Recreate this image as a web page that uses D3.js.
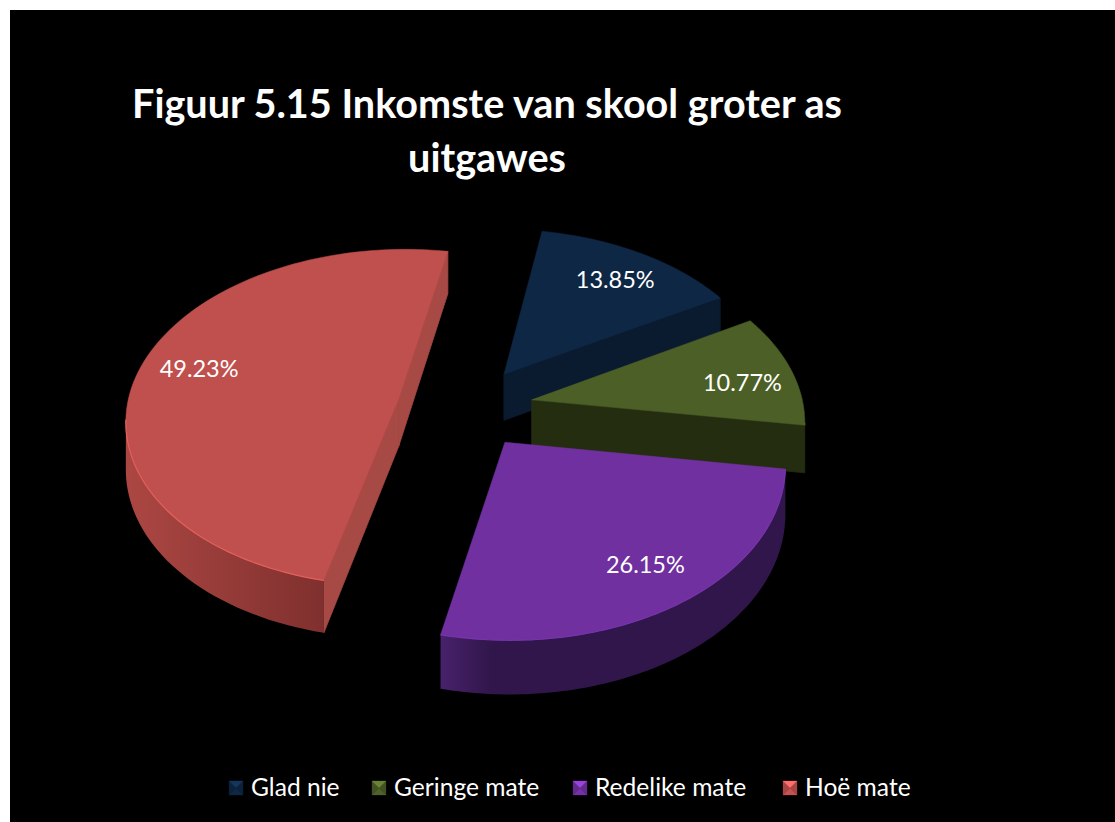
<!DOCTYPE html>
<html><head><meta charset="utf-8">
<script src="https://cdn.jsdelivr.net/npm/d3@7/dist/d3.min.js"></script>
<style>html,body{margin:0;padding:0;background:#fff}svg{display:block}</style>
</head><body><svg id="c" width="1115" height="822"></svg>
<script>
const categories = ["Glad nie","Geringe mate","Redelike mate","Hoë mate"];
const values = [13.85,10.77,26.15,49.23];
const titleLines = ["Figuur 5.15 Inkomste van skool groter as","uitgawes"];
const topColors = ["#0e2744","#4c5f27","#7030a0","#c0504d"];
const wallColors = ["#0a1a2f","#252d11","#30164a","#7f302e"];
const wallLight = ["#0c2038","#2b3415","#48216c","#ac4743"];
const cutColors = ["#0a1a2f","#252d11","#3c1b5c","#a74a45"];
const rimBoost = [.1,.1,.2,.5];
const explode = [.245,.245,.245,.255];
const labelRadius = [.80,.81,.81,.77];
const labelShift = [4,8,-4,-5];

const W=1115,H=822, FONT="Lato, 'Open Sans', sans-serif";
const cx=466.5, cy=407.5, Rx=272, Ry=168, persp=.11, depth=47, startDeg=10;
const svg=d3.select("#c");
svg.append("rect").attr("x",10).attr("y",10).attr("width",W-10).attr("height",H-10).attr("fill","#000");

const pie=d3.pie().sort(null).startAngle(startDeg*Math.PI/180).endAngle((startDeg+360)*Math.PI/180);
const arcs=pie(values);
const defs=svg.append("defs");
const line=d3.line();

function project(vx,vy,z){
  const s=1/(1-persp*vy);
  return [cx+Rx*vx*s, cy+Ry*vy*s+depth*z*s];
}
const area=p=>d3.polygonArea(p);

// back-to-front
const order=[0,1,3,2];
order.forEach(i=>{
  const a=arcs[i], mid=(a.startAngle+a.endAngle)/2;
  const ox=explode[i]*Math.sin(mid), oy=-explode[i]*Math.cos(mid);
  const P=(t,r,z)=>project(ox+r*Math.sin(t),oy-r*Math.cos(t),z);
  const ts=d3.range(0,97).map(k=>a.startAngle+(a.endAngle-a.startAngle)*k/96);
  const g=svg.append("g");
  // flat cut walls, drawn only when they face the viewer
  [[P(0,0,0),P(a.startAngle,1,0)],[P(a.endAngle,1,0),P(0,0,0)]].forEach(([A,B],j)=>{
    const t=j==0?a.startAngle:a.endAngle;
    const A2=j==0?P(0,0,1):P(t,1,1), B2=j==0?P(t,1,1):P(0,0,1);
    const q=[A,B,B2,A2];
    if(area(q)>0) g.append("path").attr("d",line(q)+"Z").attr("fill",cutColors[i]).attr("stroke",cutColors[i]).attr("stroke-width",.8);
  });
  // outer curved wall, only the part that faces the viewer
  const vis=[];
  for(let k=0;k<ts.length-1;k++){
    const q=[P(ts[k],1,0),P(ts[k+1],1,0),P(ts[k+1],1,1),P(ts[k],1,1)];
    if(area(q)>0){ if(!vis.length) vis.push(ts[k]); vis.push(ts[k+1]); }
  }
  if(vis.length){
    const poly=vis.map(t=>P(t,1,0)).concat(vis.slice().reverse().map(t=>P(t,1,1)));
    const xs=poly.map(d=>d[0]);
    const id="w"+i;
    const gr=defs.append("linearGradient").attr("id",id).attr("gradientUnits","userSpaceOnUse")
      .attr("x1",d3.min(xs)).attr("x2",d3.max(xs)).attr("y1",0).attr("y2",0);
    if(i==3){
      gr.append("stop").attr("offset",0).attr("stop-color",wallLight[i]);
      gr.append("stop").attr("offset",1).attr("stop-color",wallColors[i]);
    }else{
      gr.append("stop").attr("offset",0).attr("stop-color",wallLight[i]);
      gr.append("stop").attr("offset",.15).attr("stop-color",wallColors[i]);
      gr.append("stop").attr("offset",1).attr("stop-color",wallColors[i]);
    }
    g.append("path").attr("d",line(poly)+"Z").attr("fill","url(#"+id+")");
  }
  // top face
  const top=[P(0,0,0)].concat(ts.map(t=>P(t,1,0)));
  g.append("path").attr("d",line(top)+"Z").attr("fill",topColors[i]).attr("stroke",topColors[i]).attr("stroke-width",.5);
  if(vis.length){
    g.append("path").attr("d",line(vis.map(t=>P(t,1,0)))).attr("fill","none")
     .attr("stroke",d3.color(topColors[i]).brighter(rimBoost[i])).attr("stroke-width",1.2);
  }
  // value label
  const L=P(mid,labelRadius[i],0);
  svg.append("text").attr("class","lab").attr("x",L[0]).attr("y",L[1]+8+labelShift[i])
    .attr("text-anchor","middle").attr("fill","#fff").attr("font-family",FONT).attr("font-size",23.5)
    .text(d3.format(".2f")(values[i])+"%");
});
svg.selectAll("text.lab").raise();

// title
svg.selectAll("text.title").data(titleLines).join("text").attr("class","title")
  .attr("x",487).attr("y",(d,i)=>118+i*54).attr("text-anchor","middle")
  .attr("fill","#fff").attr("font-family",FONT).attr("font-weight",700).attr("font-size",39.6).text(d=>d);

// legend
const legendXs=[229,372,573,783];
categories.forEach((c,i)=>{
  const x=legendXs[i], y=781, m=14;
  const g=svg.append("g").attr("transform",`translate(${x},${y})`);
  const col=d3.color(topColors[i]);
  const c0=[m/2,m/2];
  const tri=(pts,f)=>g.append("path").attr("d",line(pts)+"Z").attr("fill",f).attr("stroke",f).attr("stroke-width",.3);
  tri([[0,0],[0,m],c0],col.darker(.4));
  tri([[m,0],[m,m],c0],col.darker(.4));
  tri([[0,0],[m,0],c0],col.brighter(.9));
  tri([[0,m],[m,m],c0],col.brighter(.1));
  svg.append("text").attr("x",x+22).attr("y",796).attr("fill","#fff")
    .attr("font-family",FONT).attr("font-size",24.6).text(c);
});
</script></body></html>
